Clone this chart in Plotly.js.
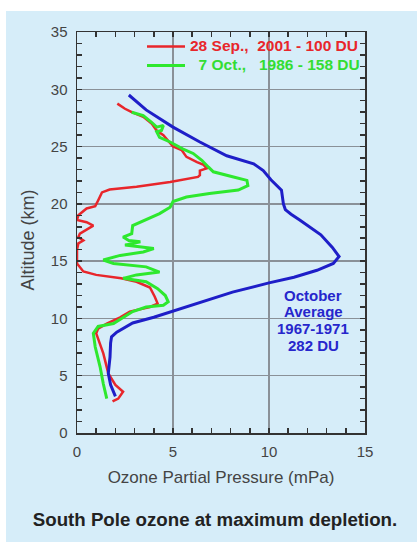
<!DOCTYPE html>
<html>
<head>
<meta charset="utf-8">
<script src="https://cdn.plot.ly/plotly-3.0.1.min.js"></script>
<style>
  html, body { margin: 0; padding: 0; background: #ffffff; width: 417px; height: 542px; overflow: hidden; }
  #chart { position: absolute; left: 6px; top: 11px; width: 411px; height: 531px; }
</style>
</head>
<body>
<div id="chart"></div>
<script>
// ---- Data ----
// 28 Sep. 2001 profile (red)
const sep2001Alt = [28.75, 28.3, 28.0, 27.6, 27.0, 26.4, 26.0, 25.3, 25.0, 24.7, 24.1, 23.65, 23.4, 23.1, 22.9, 22.5, 22.35, 21.9, 21.5, 21.25, 21.0, 20.3, 19.8, 19.6, 19.0, 18.6, 18.4, 18.1, 17.85, 17.4, 17.1, 16.8, 16.55, 16.0, 14.8, 14.1, 13.8, 13.5, 13.2, 12.7, 11.9, 11.3, 11.0, 10.6, 10.1, 9.55, 9.1, 8.7, 6.95, 5.2, 4.2, 3.6, 3.0, 2.75];
const sep2001P   = [2.1, 2.5, 2.85, 3.45, 3.9, 4.15, 4.5, 4.85, 5.0, 5.45, 5.7, 6.25, 6.6, 6.75, 6.4, 6.4, 6.3, 4.85, 3.1, 1.7, 1.3, 1.1, 0.95, 0.5, 0.07, 0.0, 0.5, 0.85, 0.6, 0.15, 0.07, 0.33, 0.07, 0.0, 0.0, 0.33, 1.0, 2.3, 3.1, 3.8, 4.05, 4.2, 3.8, 2.75, 2.25, 1.55, 1.1, 1.0, 1.37, 1.63, 2.0, 2.4, 2.15, 1.85];

// 7 Oct. 1986 profile (green)
const oct1986Alt = [28.0, 27.7, 27.1, 26.7, 26.85, 26.4, 26.3, 25.8, 25.4, 24.8, 24.4, 23.8, 23.2, 22.8, 22.35, 22.05, 21.6, 21.2, 20.9, 20.6, 20.2, 19.7, 19.15, 18.6, 18.1, 17.4, 17.1, 16.8, 16.7, 16.4, 16.1, 15.8, 15.5, 15.1, 14.8, 14.5, 14.05, 13.8, 13.5, 13.2, 12.6, 12.0, 11.45, 11.15, 11.0, 10.6, 10.1, 9.55, 9.3, 8.7, 7.5, 5.8, 4.3, 3.0];
const oct1986P   = [2.85, 3.45, 3.9, 4.15, 4.5, 4.4, 4.15, 4.3, 4.85, 5.5, 6.05, 6.5, 6.85, 7.1, 8.15, 8.85, 8.9, 8.4, 6.9, 5.7, 5.0, 4.85, 4.3, 3.6, 2.9, 2.85, 2.4, 2.7, 3.3, 2.5, 4.0, 3.45, 2.25, 1.37, 1.9, 3.6, 4.3, 3.1, 2.4, 3.6, 4.2, 4.6, 4.75, 4.5, 3.6, 2.9, 2.4, 1.9, 1.1, 0.85, 0.95, 1.2, 1.37, 1.55];

// October average 1967-1971 profile (blue)
const octAvgAlt = [29.5, 28.2, 26.7, 25.4, 24.2, 23.5, 22.9, 22.1, 21.2, 20.0, 19.5, 19.1, 18.6, 17.3, 16.2, 15.4, 14.8, 14.2, 13.6, 13.1, 12.3, 11.6, 10.9, 10.1, 9.6, 8.8, 8.4, 7.85, 6.65, 5.2, 4.2, 3.2];
const octAvgP   = [2.7, 3.6, 5.0, 6.4, 7.8, 9.2, 9.7, 10.1, 10.65, 10.75, 10.85, 11.15, 11.6, 12.7, 13.3, 13.65, 13.35, 12.5, 11.3, 10.0, 8.1, 6.8, 5.4, 4.0, 2.9, 2.07, 1.8, 1.75, 1.72, 1.63, 1.75, 2.0];

// Labels
const seriesNames = ["28 Sep.,\u00a0\u00a02001 - 100 DU", "\u200b\u00a0\u00a07 Oct.,\u00a0\u00a0\u00a01986 - 158 DU"];
const avgLabelLines = ["October", "Average", "1967-1971", "282 DU"];
const avgLabelX = 12.3;
const avgLabelY = [12.03, 10.6, 9.15, 7.67];
const xTitle = "Ozone Partial Pressure (mPa)";
const yTitle = "Altitude (km)\u00a0\u00a0\u00a0\u200b";
const caption = "South Pole ozone at maximum depletion.";

// ---- Styles ----
const RED = "#e8262b", GREEN = "#2ee82e", BLUE = "#1e1ec8";
const LEGEND_RED = "#e8262b", LEGEND_GREEN = "#33dd33", LABEL_BLUE = "#2626cc";
const BG = "#d6edf9";
const FONT = "Liberation Sans, Arial, sans-serif";

function legendLabel(text, color) {
  return '<b><span style="color:' + color + ';font-size:15.5px">' + text + '</span></b>';
}

const traces = [
  { x: sep2001P, y: sep2001Alt, mode: "lines", line: { color: RED, width: 2.5 },
    name: legendLabel(seriesNames[0], LEGEND_RED), hoverinfo: "skip" },
  { x: oct1986P, y: oct1986Alt, mode: "lines", line: { color: GREEN, width: 3 },
    name: legendLabel(seriesNames[1], LEGEND_GREEN), hoverinfo: "skip" },
  { x: octAvgP, y: octAvgAlt, mode: "lines", line: { color: BLUE, width: 3 },
    name: "October Average 1967-1971", showlegend: false, hoverinfo: "skip" }
];

const axisCommon = {
  dtick: 5, tick0: 0, ticks: "inside", ticklen: 5, tickwidth: 1.5, tickcolor: "#333",
  showgrid: true, gridcolor: "#8a9198", gridwidth: 1.5,
  showline: true, linecolor: "#333", linewidth: 1.5, mirror: "allticks",
  zeroline: false, fixedrange: true,
  tickfont: { family: FONT, size: 15, color: "#444" },
  minor: { dtick: 1, ticks: "inside", ticklen: 5, tickwidth: 1.5, tickcolor: "#333", showgrid: false }
};

const annotations = avgLabelLines.map((t, i) => ({
  x: avgLabelX, y: avgLabelY[i], xref: "x", yref: "y", text: "<b>" + t + "</b>",
  showarrow: false, font: { family: FONT, size: 15, color: LABEL_BLUE }, xanchor: "center", yanchor: "middle"
}));

const layout = {
  width: 411, height: 531,
  margin: { l: 71, r: 52, t: 21, b: 109 },
  paper_bgcolor: BG, plot_bgcolor: BG,
  font: { family: FONT, color: "#444" },
  showlegend: true,
  legend: {
    x: 1.0, y: 1.0, xanchor: "right", yanchor: "top",
    bgcolor: "rgba(0,0,0,0)", borderwidth: 0,
    font: { family: FONT, size: 12.3 }, itemwidth: 38, tracegroupgap: 0
  },
  xaxis: Object.assign({}, axisCommon, {
    range: [0, 15], ticklabelstandoff: 4,
    title: { text: xTitle, font: { family: FONT, size: 17, color: "#444" }, standoff: 12 }
  }),
  yaxis: Object.assign({}, axisCommon, {
    range: [0, 35], ticklabelstandoff: 5,
    title: { text: yTitle, font: { family: FONT, size: 18, color: "#444" }, standoff: 11 }
  }),
  title: {
    text: "<b>" + caption + "</b>",
    font: { family: FONT, size: 18.7, color: "#222" },
    xref: "container", x: 0.5085, xanchor: "center",
    yref: "container", y: 0.0433, yanchor: "middle"
  },
  annotations: annotations
};

Plotly.newPlot("chart", traces, layout, { displayModeBar: false, staticPlot: true });
</script>
</body>
</html>
